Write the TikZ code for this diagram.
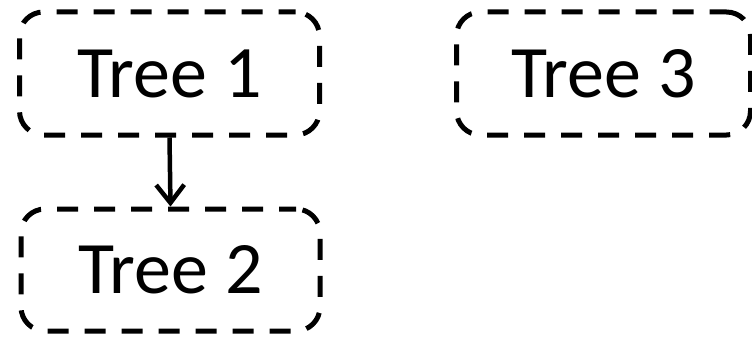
\documentclass[tikz,border=0pt]{standalone}
\usepackage{fontspec}
\setmainfont{Carlito}
\usetikzlibrary{arrows.meta}
\tikzset{
  treebox/.style={draw=black, line width=5pt, dash pattern=on 21pt off 16pt, dash phase=4pt, rounded corners=24pt,
    inner sep=0pt, font=\fontsize{74}{80}\selectfont},
  link/.style={line width=4.5pt, -{Straight Barb[length=18pt,width=28pt,line width=4.5pt]}}
}
\begin{document}
\begin{tikzpicture}[x=1pt,y=1pt]
\useasboundingbox (0,0) rectangle (752,338);
\node[treebox, minimum width=300pt, minimum height=123pt] (t1) at (169.5,264.5) {Tree 1};
\node[treebox, minimum width=299pt, minimum height=122pt] (t2) at (170.5,68) {Tree 2};
\node[treebox, minimum width=294pt, minimum height=123pt] (t3) at (603.5,264.5) {Tree 3};
\draw[link] (t1.south) -- (t2.north);
\end{tikzpicture}
\end{document}
